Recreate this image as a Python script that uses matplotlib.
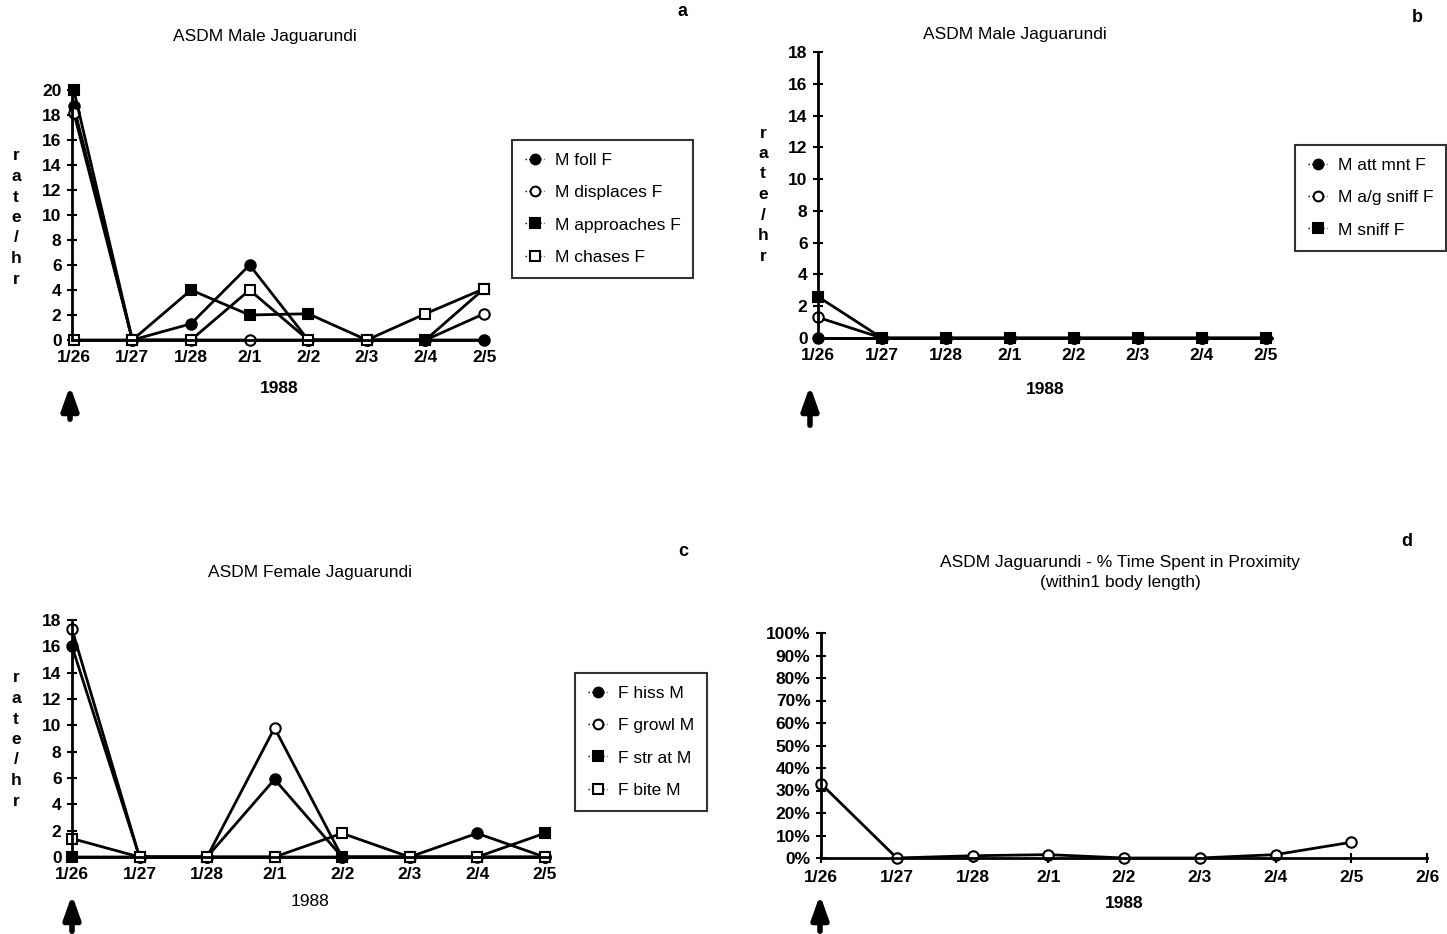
import matplotlib
matplotlib.use("Agg")
import matplotlib.pyplot as plt
from matplotlib.ticker import FuncFormatter

plt.rcParams['font.family'] = ['Liberation Sans', 'DejaVu Sans']

# --- data ---
dates = ['1/26', '1/27', '1/28', '2/1', '2/2', '2/3', '2/4', '2/5']
dates_d = dates + ['2/6']

# panel a: ASDM Male Jaguarundi
m_foll_f = [18.7, 0, 1.3, 6, 0, 0, 0, 0]
m_displaces_f = [18.2, 0, 0, 0, 0, 0, 0, 2.1]
m_approaches_f = [20, 0, 4, 2, 2.1, 0, 0, 4.1]
m_chases_f = [0, 0, 0, 4, 0, 0, 2.1, 4.1]

# panel b: ASDM Male Jaguarundi
m_att_mnt_f = [0, 0, 0, 0, 0, 0, 0, 0]
m_ag_sniff_f = [1.3, 0, 0, 0, 0, 0, 0, 0]
m_sniff_f = [2.6, 0, 0, 0, 0, 0, 0, 0]

# panel c: ASDM Female Jaguarundi
f_hiss_m = [16, 0, 0, 5.9, 0, 0, 1.8, 0]
f_growl_m = [17.3, 0, 0, 9.8, 0, 0, 0, 0]
f_str_at_m = [0, 0, 0, 0, 0, 0, 0, 1.8]
f_bite_m = [1.4, 0, 0, 0, 1.8, 0, 0, 0]

# panel d: % time in proximity
pct_proximity = [33, 0, 1, 1.5, 0, 0, 1.5, 7]

W, H = 1447, 934
fig = plt.figure(figsize=(W / 100, H / 100), dpi=100)
FS = 12.5      # tick labels
LFS = 12.5     # legend
TFS = 12.5     # titles


def box(l, r, b, t):
    return [l / W, 1 - b / H, (r - l) / W, (b - t) / H]


def style(ax, xticklen=0):
    for s in ['top', 'right']:
        ax.spines[s].set_visible(False)
    for s in ['left', 'bottom']:
        ax.spines[s].set_linewidth(2)
    ax.tick_params(axis='y', direction='inout', length=7, width=1.5, labelsize=FS, pad=4)
    ax.tick_params(axis='x', direction='inout', length=xticklen, width=1.5, labelsize=FS,
                   pad=7 if xticklen == 0 else 5)
    for lab in ax.get_xticklabels() + ax.get_yticklabels():
        lab.set_fontweight('bold')


def ylab(x, ytop):
    for i, ch in enumerate('rate/hr'):
        fig.text(x / W, 1 - (ytop + i * 20.5) / H, ch, fontsize=FS, fontweight='bold',
                 ha='center', va='center')


def arrow(x, ytop, ybot):
    fig.add_artist(matplotlib.patches.FancyArrowPatch(
        (x / W, 1 - ybot / H), (x / W, 1 - ytop / H), transform=fig.transFigure,
        arrowstyle='-|>,head_width=5,head_length=14', mutation_scale=1,
        lw=4, color='black'))


kw = dict(color='black', lw=2, ms=7.5, mew=1.5, clip_on=False)
fill = dict(mfc='black', mec='black')
hollow = dict(mfc='white', mec='black')


def legend(ax, anchor):
    leg = ax.legend(loc='upper left', bbox_to_anchor=anchor, bbox_transform=fig.transFigure,
                    frameon=True, fancybox=False, edgecolor='black', handlelength=1.1,
                    handletextpad=0.6, labelspacing=0.98, borderpad=0.75, borderaxespad=0,
                    fontsize=LFS)
    leg.get_frame().set_linewidth(1.5)
    for h in leg.get_lines():
        h.set_linewidth(1)
        h.set_linestyle(':')
        h.set_markersize(7)
    return leg


x = range(len(dates))

# ---- panel a ----
ax = fig.add_axes(box(72, 487, 340, 90))
ax.plot(x, m_foll_f, marker='o', label='M foll F', **kw, **fill)
ax.plot(x, m_displaces_f, marker='o', label='M displaces F', **kw, **hollow)
ax.plot(x, m_approaches_f, marker='s', label='M approaches F', **kw, **fill)
ax.plot(x, m_chases_f, marker='s', label='M chases F', **kw, **hollow)
ax.set_ylim(0, 20)
ax.set_xlim(-0.03, 7.05)
ax.set_yticks(range(0, 21, 2))
ax.set_xticks(list(x), dates)
style(ax)
legend(ax, (512 / W, 1 - 140 / H))
ax.set_xlabel('1988', fontsize=FS, fontweight='bold', labelpad=12)
fig.text(265 / W, 1 - 37 / H, 'ASDM Male Jaguarundi', fontsize=TFS, ha='center', va='center')
fig.text(683 / W, 1 - 12 / H, 'a', fontsize=13, fontweight='bold', ha='center', va='center')
ylab(16, 156)
arrow(70, 383, 422)

# ---- panel b ----
ax = fig.add_axes(box(818, 1272, 338, 52))
ax.plot(x, m_att_mnt_f, marker='o', label='M att mnt F', **kw, **fill)
ax.plot(x, m_ag_sniff_f, marker='o', label='M a/g sniff F', **kw, **hollow)
ax.plot(x, m_sniff_f, marker='s', label='M sniff F', **kw, **fill)
ax.set_ylim(0, 18)
ax.set_xlim(0, 7.1)
ax.set_yticks(range(0, 19, 2))
ax.set_xticks(list(x), dates)
style(ax)
legend(ax, (1295 / W, 1 - 145 / H))
ax.set_xlabel('1988', fontsize=FS, fontweight='bold', labelpad=14)
fig.text(1015 / W, 1 - 35 / H, 'ASDM Male Jaguarundi', fontsize=TFS, ha='center', va='center')
fig.text(1417 / W, 1 - 17 / H, 'b', fontsize=13, fontweight='bold', ha='center', va='center')
ylab(763, 133)
arrow(810, 383, 428)

# ---- panel c ----
ax = fig.add_axes(box(72, 548, 857, 620))
ax.plot(x, f_hiss_m, marker='o', label='F hiss M', **kw, **fill)
ax.plot(x, f_growl_m, marker='o', label='F growl M', **kw, **hollow)
ax.plot(x, f_str_at_m, marker='s', label='F str at M', **kw, **fill)
ax.plot(x, f_bite_m, marker='s', label='F bite M', **kw, **hollow)
ax.set_ylim(0, 18)
ax.set_xlim(0.03, 7.05)
ax.set_yticks(range(0, 19, 2))
ax.set_xticks(list(x), dates)
style(ax)
legend(ax, (575 / W, 1 - 673 / H))
ax.set_xlabel('1988', fontsize=FS, labelpad=9)
fig.text(310 / W, 1 - 573 / H, 'ASDM Female Jaguarundi', fontsize=TFS, ha='center', va='center')
fig.text(683 / W, 1 - 551 / H, 'c', fontsize=13, fontweight='bold', ha='center', va='center')
ylab(16, 678)
arrow(72, 892, 934)

# ---- panel d ----
ax = fig.add_axes(box(821, 1427, 858, 633))
ax.plot(x, pct_proximity, marker='o', **kw, **hollow)
ax.set_ylim(0, 100)
ax.set_xlim(0, 8)
ax.set_yticks(range(0, 101, 10))
ax.yaxis.set_major_formatter(FuncFormatter(lambda v, p: f'{v:.0f}%'))
ax.set_xticks(range(len(dates_d)), dates_d)
style(ax, xticklen=7)
ax.set_xlabel('1988', fontsize=FS, fontweight='bold', labelpad=8)
fig.text(1120 / W, 1 - 562 / H, 'ASDM Jaguarundi - % Time Spent in Proximity', fontsize=TFS,
         ha='center', va='center')
fig.text(1120 / W, 1 - 582 / H, '(within1 body length)', fontsize=TFS, ha='center', va='center')
fig.text(1407 / W, 1 - 541 / H, 'd', fontsize=13, fontweight='bold', ha='center', va='center')
arrow(820, 892, 934)

fig.savefig('out.png', dpi=100, facecolor='white')
